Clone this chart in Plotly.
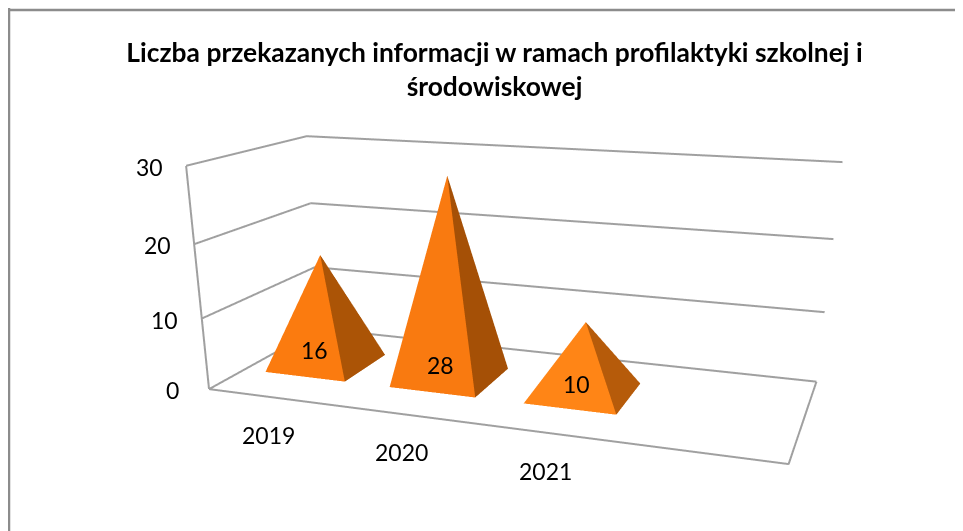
import plotly.graph_objects as go

years = ["2019", "2020", "2021"]
values = [16, 28, 10]
ticks = [0, 10, 20, 30]
title_lines = ["Liczba przekazanych informacji w ramach profilaktyki szkolnej i", "środowiskowej"]

front_colors = ["#FB7B0F", "#F97A10", "#FF8516"]
side_colors = ["#AB5406", "#A55006", "#B65B0A"]
label_heights = [3, 3, 2.4]

W, H = 963, 960
N_SLOTS = 4      # the floor keeps one empty category slot on the right
HALF_X, HALF_Y = 0.324, 0.2094

fig = go.Figure()
for i, v in enumerate(values):
    m = i + 0.5
    fig.add_trace(go.Mesh3d(
        x=[m - HALF_X, m + HALF_X, m + HALF_X, m - HALF_X, m],
        y=[0.5 - HALF_Y, 0.5 - HALF_Y, 0.5 + HALF_Y, 0.5 + HALF_Y, 0.5],
        z=[0, 0, 0, 0, v],
        i=[0, 1, 2, 3], j=[1, 2, 3, 0], k=[4, 4, 4, 4],
        facecolor=[front_colors[i], side_colors[i], side_colors[i], front_colors[i]],
        flatshading=True,
        lighting=dict(ambient=1, diffuse=0, specular=0, fresnel=0),
        showscale=False, hoverinfo="skip",
    ))

lx, ly, lz = [], [], []
for t in ticks:
    lx += [0, 0, N_SLOTS, None]
    ly += [0, 1, 1, None]
    lz += [t, t, t, None]
top = max(ticks)
lx += [0, 0, None, 0, N_SLOTS, N_SLOTS]
ly += [0, 0, None, 0, 0, 1]
lz += [0, top, None, 0, 0, 0]
fig.add_trace(go.Scatter3d(x=lx, y=ly, z=lz, mode="lines",
                           line=dict(color="#a0a0a0", width=4),
                           hoverinfo="skip", showlegend=False))

f23 = dict(family="Lato", size=23, color="black")
anns = []
for t in ticks:
    anns.append(dict(x=0, y=0, z=t, text=str(t), showarrow=False, xshift=-37, yshift=-1, font=f23))
for i, (v, y) in enumerate(zip(values, years)):
    anns.append(dict(x=i + 0.5, y=0, z=0, text=y, showarrow=False, xshift=-3, yshift=-38, font=f23))
    anns.append(dict(x=i + 0.5, y=0.5 - HALF_Y + 0.1, z=label_heights[i], text=str(v), showarrow=False, font=f23))

fig.update_layout(
    width=W, height=H, margin=dict(l=0, r=0, t=0, b=0), paper_bgcolor="white",
    font=dict(family="Lato"), showlegend=False,
    title=dict(text="<b>" + "<br>".join(title_lines) + "</b>",
               x=(489.5 - 8 + 5) / W, xanchor="center", y=1 - 54 / H, yanchor="top",
               font=dict(family="Lato", size=26.4, color="black")),
    scene=dict(
        domain=dict(x=[0, 1], y=[0, 1]),
        xaxis=dict(visible=False, range=[0, N_SLOTS]),
        yaxis=dict(visible=False, range=[0, 1]),
        zaxis=dict(visible=False, range=[0, top]),
        aspectmode="manual", aspectratio=dict(x=1, y=0.4096, z=0.3827),
        camera=dict(eye=dict(x=0.6291, y=-1.8544, z=0.4716),
                    center=dict(x=-0.1138, y=0.1766, z=-0.4809),
                    up=dict(x=0, y=0, z=1)),
        annotations=anns,
    ),
    shapes=[
        dict(type="line", xref="paper", yref="paper", x0=0, x1=1, y0=1 - 2 / H, y1=1 - 2 / H,
             line=dict(color="#8c8c8c", width=2.5)),
        dict(type="line", xref="paper", yref="paper", x0=1 / W, x1=1 / W, y0=0, y1=1,
             line=dict(color="#8c8c8c", width=2.5)),
    ],
)
fig.write_html("out.html")
